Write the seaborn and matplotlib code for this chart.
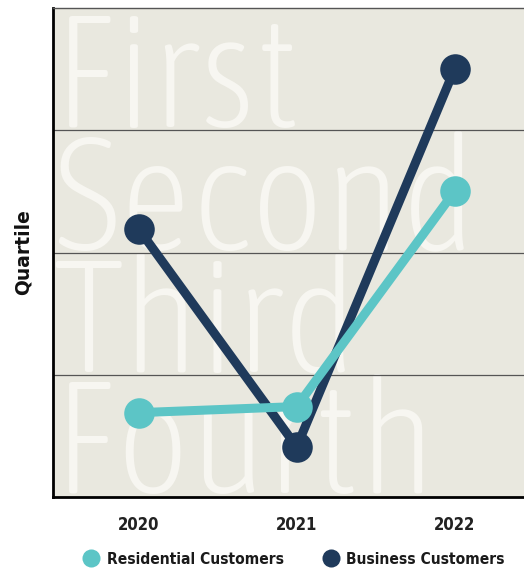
import numpy as np
import pandas as pd
import matplotlib
matplotlib.use("Agg")
import matplotlib.pyplot as plt
import matplotlib.transforms as mtransforms
from matplotlib.lines import Line2D
from matplotlib import font_manager
from matplotlib.font_manager import FontProperties
import seaborn as sns

# Data (0 = bottom of Fourth quartile, 4 = top of First)
years = [2020, 2021, 2022]
residential = [0.69, 0.74, 2.50]
business = [2.19, 0.41, 3.50]
quartile_names = ["First", "Second", "Third", "Fourth"]
series_names = ["Residential Customers", "Business Customers"]
colors = {"Residential Customers": "#5cc5c6", "Business Customers": "#1f3a5b"}

df = pd.DataFrame({
    "year": years * 2,
    "value": residential + business,
    "series": [series_names[0]] * 3 + [series_names[1]] * 3,
})


# look for a condensed / narrow face, the original uses one
def as_weight(w):
    if isinstance(w, str):
        return font_manager.weight_dict.get(w, 400)
    return w


def is_narrow(f):
    s = f.stretch
    if isinstance(s, str):
        s = font_manager.stretch_dict.get(s, 500)
    return s < 500 or "Condensed" in f.name or "Narrow" in f.name


narrow_faces = [f for f in font_manager.fontManager.ttflist
                if is_narrow(f) and f.style == "normal"]


def pick(weight):
    if not narrow_faces:
        return None
    best = min(narrow_faces, key=lambda f: abs(as_weight(f.weight) - weight))
    return best.fname


thin_file = pick(200)
bold_file = pick(700)
if thin_file:
    big_prop = FontProperties(fname=thin_file, size=114)
else:
    big_prop = FontProperties(family="Open Sans", weight="light", size=92)
if bold_file:
    tick_prop = FontProperties(fname=bold_file, size=12)
    leg_prop = FontProperties(fname=bold_file, size=11.2)
else:
    tick_prop = FontProperties(family="Open Sans", weight="bold", size=11)
    leg_prop = FontProperties(family="Open Sans", weight="semibold", size=10.5)

sns.set_style("white")
plt.rcParams["font.family"] = ["Open Sans", "DejaVu Sans"]

fig = plt.figure(figsize=(5.24, 5.73), dpi=100)
ax = fig.add_axes([0.101, 0.1326, 0.899, 0.8534])
ax.set_facecolor("#e9e8df")

# big faint quartile words behind the data
trans = mtransforms.blended_transform_factory(ax.transAxes, ax.transData)
for i, word in enumerate(quartile_names):
    ax.text(0.0, 3 - i + 0.03, word, transform=trans, fontproperties=big_prop,
            color="#f7f6f1", va="baseline", ha="left", zorder=0, clip_on=True)

for y in [1, 2, 3]:
    ax.axhline(y, color="#555555", lw=0.9, zorder=1)

# business first, residential on top
for name in [series_names[1], series_names[0]]:
    sub = df[df["series"] == name]
    sns.lineplot(data=sub, x="year", y="value", ax=ax, color=colors[name],
                 lw=6.5, marker="o", markersize=22, markeredgewidth=0,
                 legend=False, zorder=3 if name == series_names[0] else 2)

ax.set_xlim(2020 - 0.545, 2022 + 0.44)
ax.set_ylim(0, 4)
ax.set_xticks(years)
ax.set_xticklabels([str(y) for y in years], fontproperties=tick_prop,
                   color="#222222")
ax.set_yticks([1, 2, 3, 4])
ax.set_yticklabels([])
ax.tick_params(axis="y", length=5, width=1.5, color="black", direction="out")
ax.tick_params(axis="x", length=0, pad=14)
ax.set_xlabel("")
ax.set_ylabel("Quartile", fontsize=13.5, fontweight="bold", labelpad=6,
              family=["DejaVu Sans"], color="#111111")

ax.spines["left"].set_linewidth(2)
ax.spines["left"].set_color("black")
ax.spines["bottom"].set_linewidth(2)
ax.spines["bottom"].set_color("black")
ax.spines["top"].set_linewidth(1)
ax.spines["top"].set_color("#555555")
ax.spines["right"].set_visible(False)

handles = [Line2D([], [], ls="none", marker="o", markersize=13,
                  color=colors[n], markeredgewidth=0) for n in series_names]
fig.legend(handles, series_names, loc="center", bbox_to_anchor=(0.557, 0.024),
           ncol=2, frameon=False, handletextpad=0.2, columnspacing=2.2,
           handlelength=1.6, prop=leg_prop, labelcolor="#1a1a1a")

fig.savefig("out.png", dpi=100)
